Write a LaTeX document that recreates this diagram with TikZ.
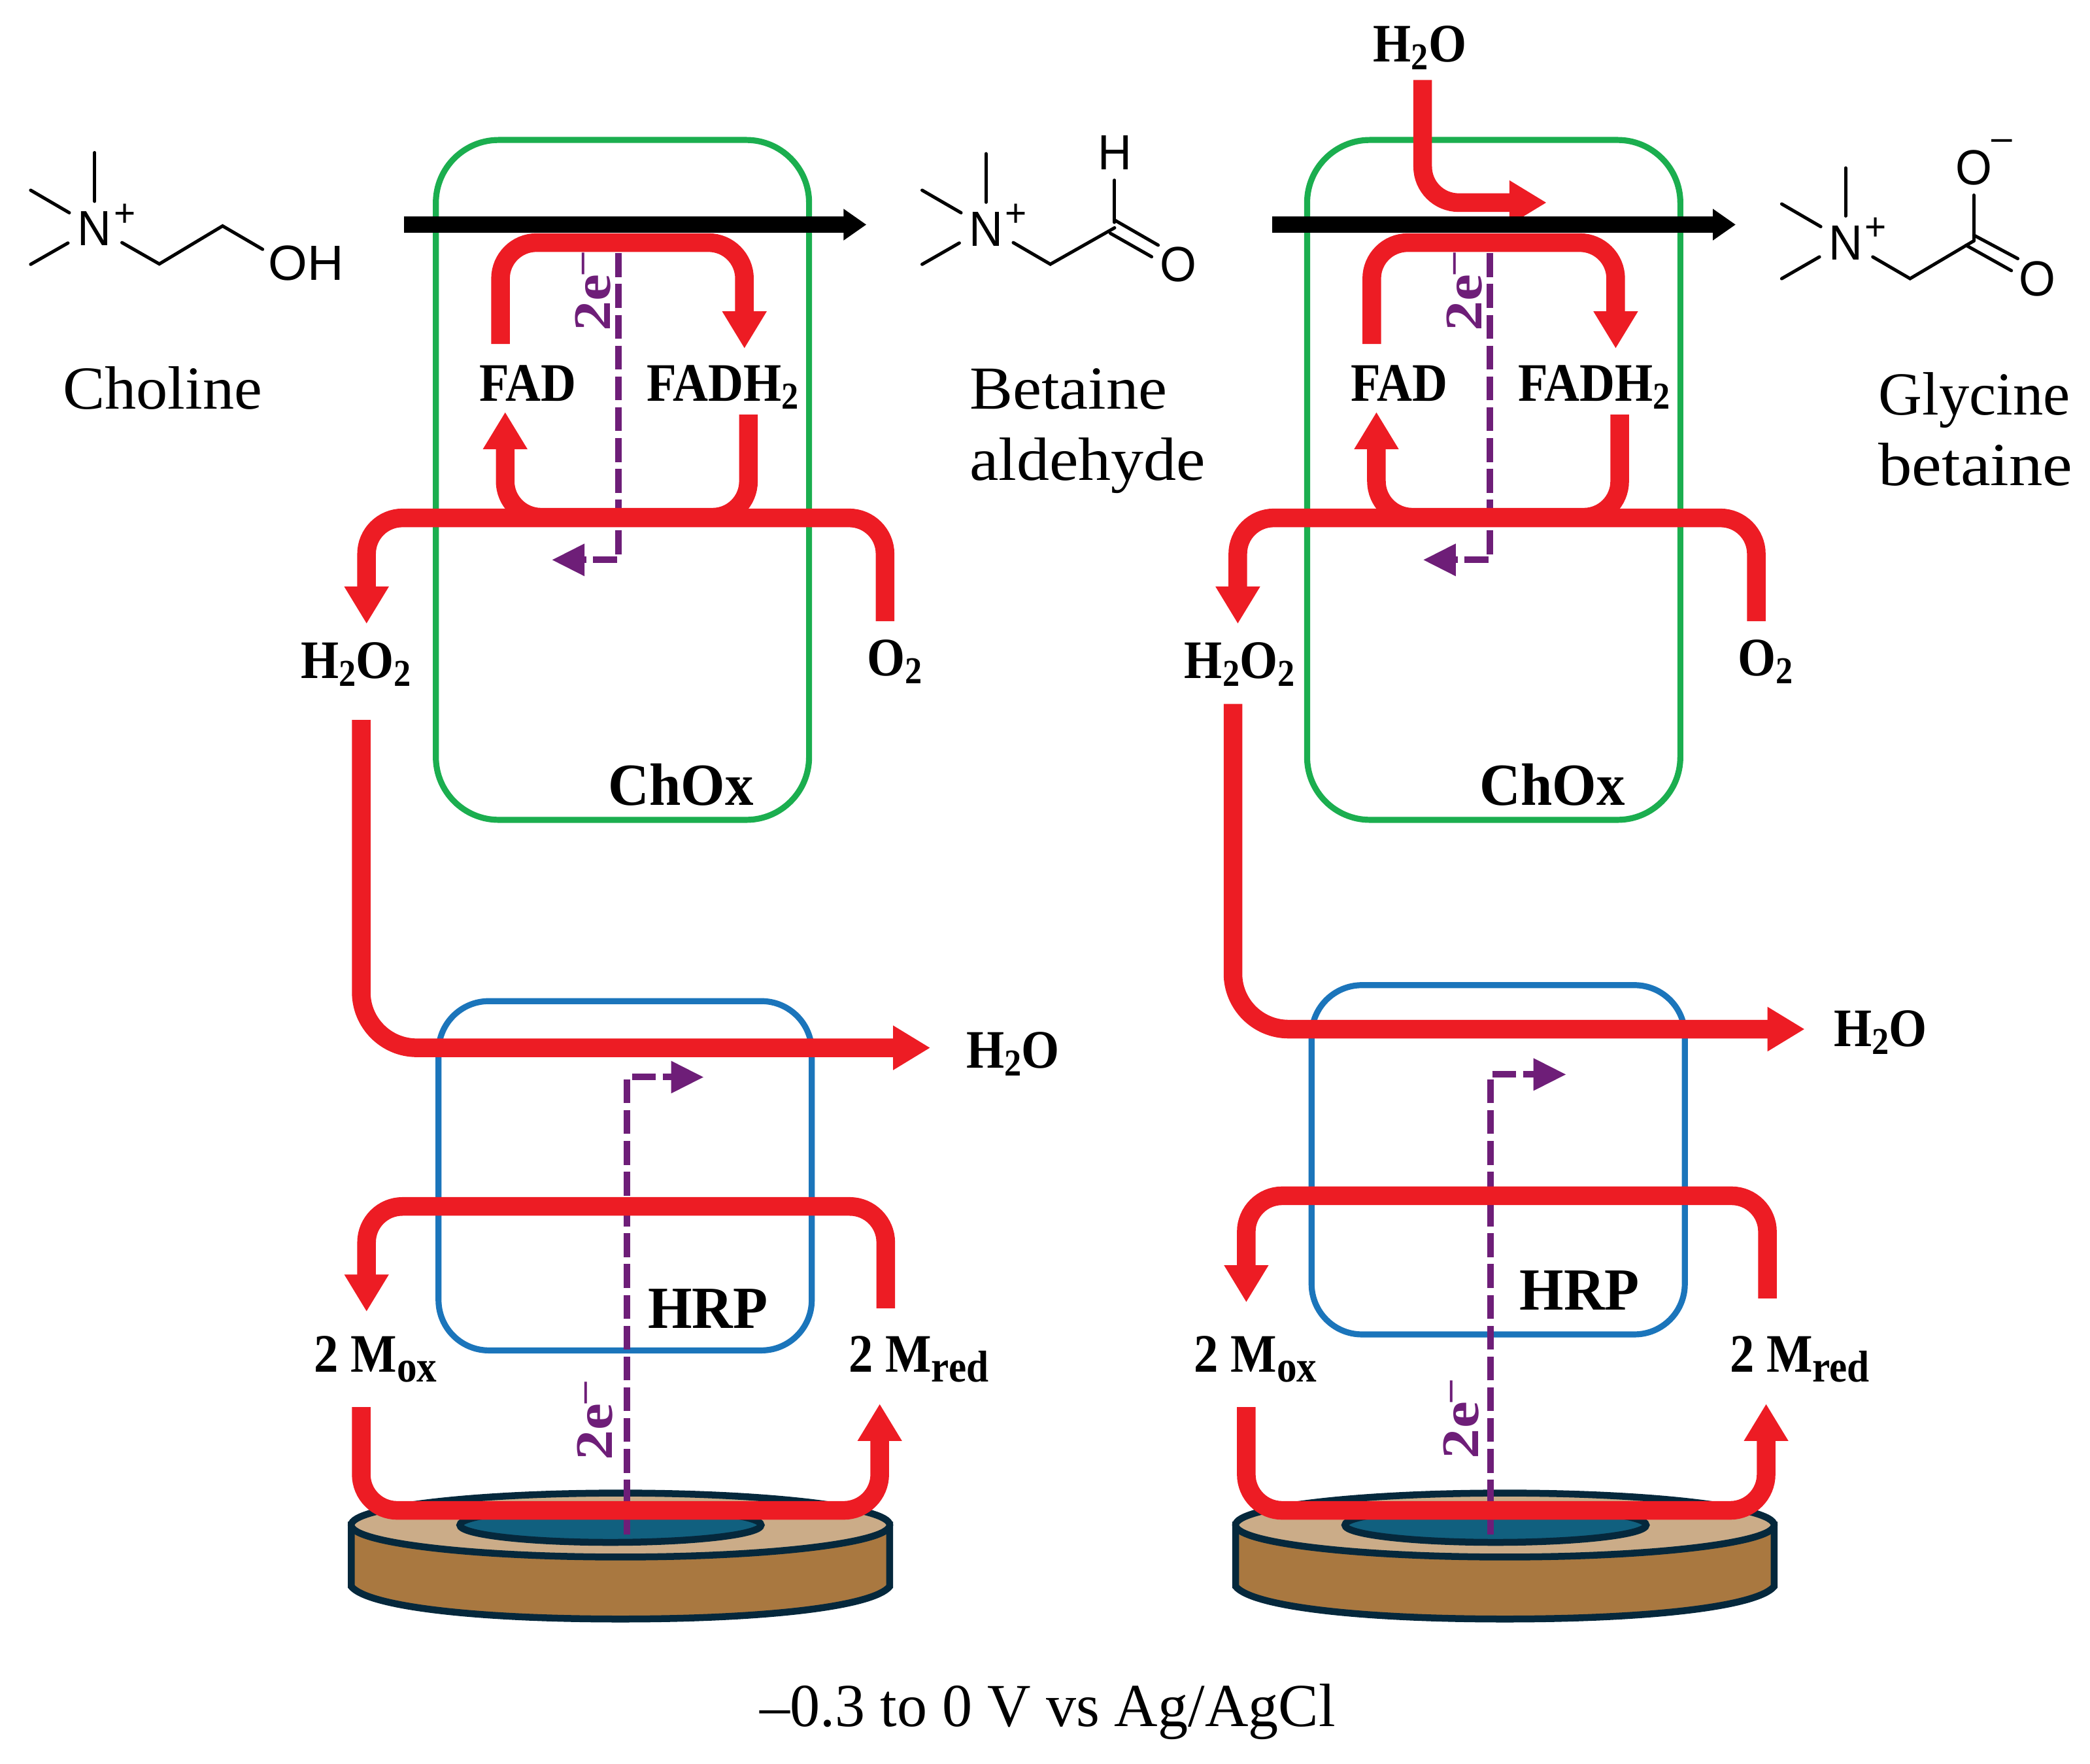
\documentclass[tikz,border=0pt]{standalone}
\usepackage{fontspec}
\usetikzlibrary{arrows.meta}
\setmainfont{Liberation Serif}
\newfontfamily\labf[FakeStretch=0.9,UprightFont=* Bold]{Liberation Serif}
\newfontfamily\enzf[FakeStretch=0.95,UprightFont=* Bold]{Liberation Serif}
\newfontfamily\elf[FakeStretch=1.14,UprightFont=* Bold]{Liberation Serif}
\newfontfamily\atomf[FakeStretch=0.95]{Liberation Sans}
\newcommand\sbs[1]{\raisebox{-.32ex}{\scalebox{.7}{#1}}}
\newcommand\msb[1]{\raisebox{-.4ex}{\scalebox{.82}{#1}}}
\newcommand\sps[1]{\raisebox{.75ex}{\scalebox{.7}{#1}}}
\definecolor{redx}{HTML}{ED1C24}
\definecolor{greenx}{HTML}{1BAE4F}
\definecolor{bluex}{HTML}{1B75BB}
\definecolor{purplex}{HTML}{6E1E78}
\definecolor{darkx}{HTML}{05283C}
\definecolor{tanx}{HTML}{CBAC88}
\definecolor{brownx}{HTML}{A97840}
\definecolor{wellx}{HTML}{11607F}
\tikzset{
 x=0.02039cm,y=-0.02039cm,
 greenbox/.style={draw=greenx,line width=0.092cm,rounded corners=0.96cm},
 bluebox/.style={draw=bluex,line width=0.092cm,rounded corners=0.77cm},
 redpath/.style={draw=redx,line width=0.285cm,rounded corners=0.55cm},
 redtip/.style={redpath,-{Triangle[length=0.57cm,width=0.64cm]}},
 bigred/.style={redtip,rounded corners=0.85cm},
 blackarrow/.style={draw=black,line width=0.25cm,-{Triangle[length=0.35cm,width=0.46cm]}},
 edash/.style={draw=purplex,line width=0.1cm,dash pattern=on 10.4pt off 3pt,-{Triangle[length=0.5cm,width=0.47cm]}},
 bond/.style={draw=black,line width=0.05cm,line cap=round},
 disc/.style={draw=darkx,line width=0.105cm},
 namelab/.style={font=\fontsize{26.6pt}{31pt}\selectfont,inner sep=0pt},
 boldlab/.style={font=\labf\fontsize{23.6pt}{28pt}\selectfont,inner sep=0pt},
 enzlab/.style={font=\enzf\fontsize{26pt}{30pt}\selectfont,inner sep=0pt},
 elab/.style={font=\elf\fontsize{23pt}{28pt}\selectfont,text=purplex,inner sep=0pt,rotate=90},
 atomlab/.style={font=\atomf\fontsize{21.5pt}{24pt}\selectfont,inner sep=0pt},
 chglab/.style={font=\atomf\fontsize{17pt}{20pt}\selectfont,inner sep=0pt},
}
% ChOx unit: drawn at the left-hand position, shifted by the scope
\newcommand\oxunit{%
 \path[greenbox] (327,105) rectangle (607,615);
 \coordinate (eTop) at (464,190);
 \coordinate (eCorner) at (464,420);
 \coordinate (eEnd) at (414,420);
 \draw[edash] (eTop) -- (eCorner) -- (eEnd);
 \node[boldlab,anchor=base] (fad) at (396,301) {FAD};
 \node[boldlab,anchor=base west] (fadh) at (485,301) {FADH\sbs{2}};
 \node[boldlab,anchor=base] (o2) at (671,507) {O\sbs{2}};
 \node[enzlab,anchor=base] (chox) at (511,604) {ChOx};
 \node[elab] (etxt) at (445,219) {2e\sps{–}};
 \coordinate (a1s) at (375.5,258); \coordinate (a1e) at (558.5,261.5);
 \coordinate (a2s) at (561.5,311); \coordinate (a2e) at (379,309);
 \coordinate (a3s) at (664,466);   \coordinate (a3e) at (275,468);
 \draw[redtip] (a1s) -- (375.5,182) -- (558.5,182) -- (a1e);
 \draw[redtip] (a2s) -- (561.5,388) -- (379,388) -- (a2e);
 \draw[redtip] (a3s) -- (664,388.5) -- (275,388.5) -- (a3e);
 \coordinate (bs) at (303,168.5); \coordinate (be) at (650,168.5);
}
\newcommand\electrodeat[2]{% body centre, well centre
 \path[disc,fill=brownx] (#1-202,1144) -- (#1-202,1190)
   .. controls (#1-190,1205) and (#1-110,1214.5) .. (#1,1214.5)
   .. controls (#1+110,1214.5) and (#1+190,1205) .. (#1+202,1190)
   -- (#1+202,1144) -- cycle;
 \path[disc,fill=tanx] (#1,1144) ellipse [x radius=202,y radius=24];
 \path[disc,fill=wellx] (#2,1144) ellipse [x radius=113,y radius=13];
}
\begin{document}
\begin{tikzpicture}
\useasboundingbox (0,0) rectangle (1568,1323.2);
% ---- ChOx units
\begin{scope}[name prefix=L-]\oxunit\draw[blackarrow] (bs) -- (be);\end{scope}
\begin{scope}[name prefix=R-,xshift=13.3247cm]
 \coordinate (ws) at (413.7,60);
 \coordinate (we) at (506.7,152);
 \oxunit
 \draw[redtip] (ws) -- (413.7,152) -- (we);
 \draw[blackarrow] ([xshift=-0.05cm]bs) -- ([xshift=-0.03cm]be);
\end{scope}
\node[boldlab,anchor=base] (lh2o2) at (267,509) {H\sbs{2}O\sbs{2}};
\node[boldlab,anchor=base] (rh2o2) at (930,509) {H\sbs{2}O\sbs{2}};
% ---- left HRP unit
\electrodeat{465.5}{458}
\path[bluebox] (329,751) rectangle (609,1013);
\coordinate (el1s) at (470.5,1151); \coordinate (el1c) at (470.5,808); \coordinate (el1e) at (528,808);
\draw[edash] (el1s) -- (el1c) -- (el1e);
\node[boldlab,anchor=base] (lh2o) at (760,801) {H\sbs{2}O};
\node[boldlab,anchor=base west] (lmox) at (235.5,1029) {2 M\msb{ox}};
\node[boldlab,anchor=base west] (lmred) at (636.5,1029) {2 M\msb{red}};
\node[enzlab,anchor=base] (lhrp) at (531,996.4) {HRP};
\node[elab] (le) at (446.6,1066) {2e\sps{–}};
\coordinate (lp1s) at (271,540); \coordinate (lp1e) at (698,786);
\coordinate (lp2s) at (664.5,981.5); \coordinate (lp2e) at (275,984);
\coordinate (lp3s) at (271,1055.5); \coordinate (lp3e) at (660,1053);
\draw[bigred] (lp1s) -- (271,786) -- (lp1e);
\draw[redtip] (lp2s) -- (664.5,905) -- (275,905) -- (lp2e);
\draw[redtip] (lp3s) -- (271,1133) -- (660,1133) -- (lp3e);
% ---- right HRP unit
\electrodeat{1129}{1122}
\path[bluebox] (984,739) rectangle (1264,1001);
\coordinate (el2s) at (1118,1151); \coordinate (el2c) at (1118,806); \coordinate (el2e) at (1175,806);
\draw[edash] (el2s) -- (el2c) -- (el2e);
\node[boldlab,anchor=base] (rh2o) at (1411,785) {H\sbs{2}O};
\node[boldlab,anchor=base west] (rmox) at (895.5,1029) {2 M\msb{ox}};
\node[boldlab,anchor=base west] (rmred) at (1297.5,1029) {2 M\msb{red}};
\node[enzlab,anchor=base] (rhrp) at (1185,982.4) {HRP};
\node[elab] (re) at (1096,1065) {2e\sps{–}};
\coordinate (rp1s) at (925,528); \coordinate (rp1e) at (1354,772);
\coordinate (rp2s) at (1326,974); \coordinate (rp2e) at (935,977);
\coordinate (rp3s) at (935,1055.5); \coordinate (rp3e) at (1325,1053);
\draw[bigred] (rp1s) -- (925,772) -- (rp1e);
\draw[redtip] (rp2s) -- (1326,897) -- (935,897) -- (rp2e);
\draw[redtip] (rp3s) -- (935,1133) -- (1325,1133) -- (rp3e);
% ---- top water label
\node[boldlab,anchor=base west] (th2o) at (1030,46.3) {H\sbs{2}O};
% ---- names
\node[namelab,anchor=base] (choline) at (122,307) {\scalebox{1.03}[1]{Choline}};
\node[namelab,anchor=base west] (ba1) at (727,307) {\scalebox{1.06}[1]{Betaine}};
\node[namelab,anchor=base west] (ba2) at (727,360) {\scalebox{1.07}[1]{aldehyde}};
\node[namelab,anchor=base west] (gb1) at (1409,311) {\scalebox{.99}[1]{Glycine}};
\node[namelab,anchor=base west] (gb2) at (1409,364) {\scalebox{1.1}[1]{betaine}};
\node[namelab,anchor=base] (volt) at (786,1295) {\scalebox{.985}[1]{–0.3 to 0 V vs Ag/AgCl}};
% ---- choline
\node[atomlab] (n1) at (71,171.5) {N};
\node[chglab] (n1p) at (93.5,161.5) {+};
\node[atomlab] (oh) at (229.5,197.5) {\scalebox{1.07}[1]{OH}};
\draw[bond] (71,114.5) -- (71,151);
\draw[bond] (23,142.7) -- (52,159.6);
\draw[bond] (23,198.3) -- (51,182.3);
\draw[bond] (91.5,182) -- (119.5,198) -- (167,169.5) -- (197,187);
% ---- betaine aldehyde
\node[atomlab] (n2) at (739.7,172) {N};
\node[chglab] (n2p) at (762.3,161.5) {+};
\node[atomlab] (h) at (836.2,114.5) {H};
\node[atomlab] (o3) at (884.1,198.2) {O};
\draw[bond] (739.7,115.3) -- (739.7,151.7);
\draw[bond] (691.8,142.7) -- (721,159.6);
\draw[bond] (691.8,198.3) -- (719.7,182.3);
\draw[bond] (760.2,182) -- (788,198.2) -- (836.2,170.9);
\draw[bond] (836.2,135.2) -- (836.2,166.8);
\draw[bond] (836.2,165.1) -- (868.9,183.9);
\draw[bond] (833,175) -- (864,192.6);
% ---- glycine betaine
\node[atomlab] (n3) at (1384.6,182) {N};
\node[chglab] (n3p) at (1407,172) {+};
\node[atomlab] (o4) at (1480.8,126) {O};
\node[chglab] (o4m) at (1502,109) {–};
\node[atomlab] (o5) at (1528.7,209) {O};
\draw[bond] (1384.6,126) -- (1384.6,162);
\draw[bond] (1336.7,153) -- (1366,170);
\draw[bond] (1336.7,209) -- (1365,192.7);
\draw[bond] (1405,192.7) -- (1433,209) -- (1480.8,180.7);
\draw[bond] (1480.8,180.7) -- (1480.8,146.4);
\draw[bond] (1480.8,176.4) -- (1513.8,194);
\draw[bond] (1475,184) -- (1509,203);
\end{tikzpicture}
\end{document}
